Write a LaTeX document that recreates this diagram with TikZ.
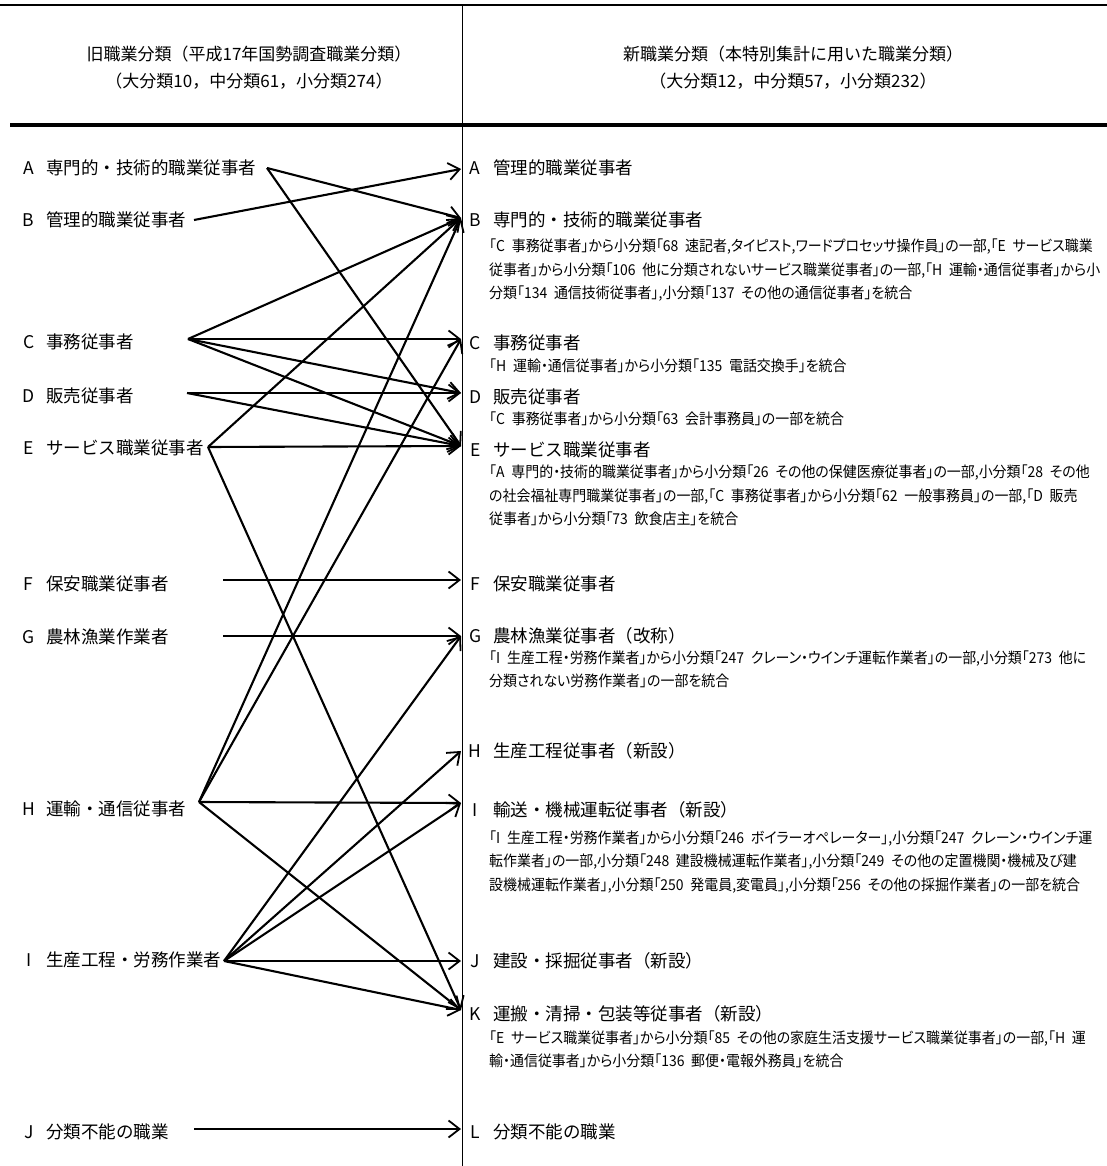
\documentclass[tikz,border=0pt]{standalone}
\usepackage{fontspec}
\newfontfamily\jp{Noto Sans CJK JP}
\newfontfamily\jpd[RawFeature={+palt},FakeStretch=0.93]{Noto Sans CJK JP}
\usetikzlibrary{arrows.meta}
\newcommand\gp{\hspace{0.45em}}
\tikzset{
  conn/.style={line width=2.1pt,-{Straight Barb[length=11pt,width=17pt,line width=1.8pt]}},
  lab/.style={inner sep=0pt,anchor=west,font=\jp\fontsize{17.5}{20}\selectfont},
  desc/.style={inner sep=0pt,anchor=north west,align=left,font=\jpd\fontsize{15}{23.5}\selectfont},
  head/.style={inner sep=0pt,align=center,font=\jp\fontsize{17}{27}\selectfont}
}
\begin{document}
\begin{tikzpicture}[x=1pt,y=-1pt]
\useasboundingbox (0,0) rectangle (1107,1166);
% frame lines
\draw[line width=1.5pt] (0,5) -- (1107,5);
\draw[line width=1pt] (462,5) -- (462,1166);
\draw[line width=4.5pt] (10,125) -- (1107,125);
% headers
\node[head] (h1) at (249,68) {旧職業分類（平成17年国勢調査職業分類）\\（大分類10，中分類61，小分類274）};
\node[head] (h2) at (793,68) {新職業分類（本特別集計に用いた職業分類）\\（大分類12，中分類57，小分類232）};
% old categories
\node[lab] (oA) at (11,168) {\makebox[35pt]{A}専門的・技術的職業従事者};
\node[lab] (oB) at (11,220) {\makebox[35pt]{B}管理的職業従事者};
\node[lab] (oC) at (11,342) {\makebox[35pt]{C}事務従事者};
\node[lab] (oD) at (11,396) {\makebox[35pt]{D}販売従事者};
\node[lab] (oE) at (11,448) {\makebox[35pt]{E}サービス職業従事者};
\node[lab] (oF) at (11,584) {\makebox[35pt]{F}保安職業従事者};
\node[lab] (oG) at (11,637) {\makebox[35pt]{G}農林漁業作業者};
\node[lab] (oH) at (11,809) {\makebox[35pt]{H}運輸・通信従事者};
\node[lab] (oI) at (11,960) {\makebox[35pt]{I}生産工程・労務作業者};
\node[lab] (oJ) at (11,1132) {\makebox[35pt]{J}分類不能の職業};
% new categories
\node[lab] (nA) at (457,168) {\makebox[36pt]{A}管理的職業従事者};
\node[lab] (nB) at (457,220) {\makebox[36pt]{B}専門的・技術的職業従事者};
\node[lab] (nC) at (457,343) {\makebox[36pt]{C}事務従事者};
\node[lab] (nD) at (457,397) {\makebox[36pt]{D}販売従事者};
\node[lab] (nE) at (457,450) {\makebox[36pt]{E}サービス職業従事者};
\node[lab] (nF) at (457,584) {\makebox[36pt]{F}保安職業従事者};
\node[lab] (nG) at (457,636) {\makebox[36pt]{G}農林漁業従事者（改称）};
\node[lab] (nH) at (457,751) {\makebox[36pt]{H}生産工程従事者（新設）};
\node[lab] (nI) at (457,810) {\makebox[36pt]{I}輸送・機械運転従事者（新設）};
\node[lab] (nJ) at (457,961) {\makebox[36pt]{J}建設・採掘従事者（新設）};
\node[lab] (nK) at (457,1014) {\makebox[36pt]{K}運搬・清掃・包装等従事者（新設）};
\node[lab] (nL) at (457,1132) {\makebox[36pt]{L}分類不能の職業};
% descriptions
\node[desc] (dB) at (489,239) {「C\gp 事務従事者」から小分類「68\gp 速記者,タイピスト,ワードプロセッサ操作員」の一部,「E\gp サービス職業\\従事者」から小分類「106\gp 他に分類されないサービス職業従事者」の一部,「H\gp 運輸・通信従事者」から小\\分類「134\gp 通信技術従事者」,小分類「137\gp その他の通信従事者」を統合};
\node[desc] (dC) at (489,359) {「H\gp 運輸・通信従事者」から小分類「135\gp 電話交換手」を統合};
\node[desc] (dD) at (489,412) {「C\gp 事務従事者」から小分類「63\gp 会計事務員」の一部を統合};
\node[desc] (dE) at (489,465) {「A\gp 専門的・技術的職業従事者」から小分類「26\gp その他の保健医療従事者」の一部,小分類「28\gp その他\\の社会福祉専門職業従事者」の一部,「C\gp 事務従事者」から小分類「62\gp 一般事務員」の一部,「D\gp 販売\\従事者」から小分類「73\gp 飲食店主」を統合};
\node[desc] (dG) at (489,650.5) {「I\gp 生産工程・労務作業者」から小分類「247\gp クレーン・ウインチ運転作業者」の一部,小分類「273\gp 他に\\分類されない労務作業者」の一部を統合};
\node[desc] (dI) at (489,830.5) {「I\gp 生産工程・労務作業者」から小分類「246\gp ボイラーオペレーター」,小分類「247\gp クレーン・ウインチ運\\転作業者」の一部,小分類「248\gp 建設機械運転作業者」,小分類「249\gp その他の定置機関・機械及び建\\設機械運転作業者」,小分類「250\gp 発電員,変電員」,小分類「256\gp その他の採掘作業者」の一部を統合};
\node[desc] (dK) at (489,1030.5) {「E\gp サービス職業従事者」から小分類「85\gp その他の家庭生活支援サービス職業従事者」の一部,「H\gp 運\\輸・通信従事者」から小分類「136\gp 郵便・電報外務員」を統合};
% connector end points
\coordinate (sA) at (267,168);
\coordinate (sB) at (194,220);
\coordinate (sC) at (188,339);
\coordinate (sD) at (187,393);
\coordinate (sE) at (208,447);
\coordinate (sF) at (223,580);
\coordinate (sG) at (223,636);
\coordinate (sH) at (199,802);
\coordinate (sI) at (224,961);
\coordinate (sJ) at (194,1129);
\coordinate (tA) at (461,169);
\coordinate (tB) at (461,218);
\coordinate (tC) at (461,339);
\coordinate (tD) at (461,393);
\coordinate (tE) at (461,446);
\coordinate (tF) at (461,580);
\coordinate (tG) at (461,636);
\coordinate (tH) at (461,751);
\coordinate (tI) at (461,803);
\coordinate (tJ) at (461,961);
\coordinate (tK) at (461,1010);
\coordinate (tL) at (461,1129);
% connectors
\draw[conn] (sA) -- (tB);
\draw[conn] (sA) -- (tE);
\draw[conn] (sB) -- (tA);
\draw[conn] (sC) -- (tB);
\draw[conn] (sC) -- (tC);
\draw[conn] (sC) -- (tD);
\draw[conn] (sC) -- (tE);
\draw[conn] (sD) -- (tD);
\draw[conn] (sD) -- (tE);
\draw[conn] (sE) -- (tB);
\draw[conn] (sE) -- (tE);
\draw[conn] (sE) -- (tK);
\draw[conn] (sF) -- (tF);
\draw[conn] (sG) -- (tG);
\draw[conn] (sH) -- (tB);
\draw[conn] (sH) -- (tC);
\draw[conn] (sH) -- (tI);
\draw[conn] (sH) -- (tK);
\draw[conn] (sI) -- (tG);
\draw[conn] (sI) -- (tH);
\draw[conn] (sI) -- (tI);
\draw[conn] (sI) -- (tJ);
\draw[conn] (sI) -- (tK);
\draw[conn] (sJ) -- (tL);
\end{tikzpicture}
\end{document}
